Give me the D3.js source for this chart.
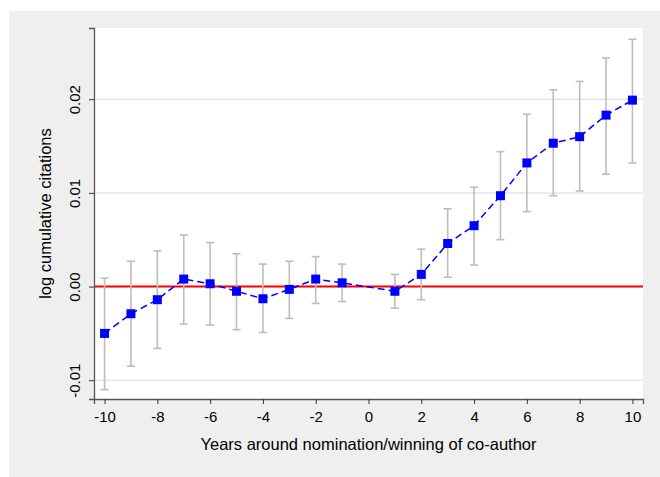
<!DOCTYPE html>
<html><head><meta charset="utf-8">
<script src="https://cdn.jsdelivr.net/npm/d3@7"></script>
<style>html,body{margin:0;padding:0;background:#fff;}svg{display:block;}</style>
</head><body>
<svg id="c" width="660" height="477"></svg>
<script>
const years = [-10,-9,-8,-7,-6,-5,-4,-3,-2,-1,1,2,3,4,5,6,7,8,9,10];
const estimate = [-0.0050,-0.0029,-0.0014,0.0008,0.0003,-0.0005,-0.0013,-0.0003,0.0008,0.0004,-0.0005,0.0013,0.0046,0.0065,0.0097,0.0132,0.0153,0.0160,0.0183,0.0199];
const upper = [0.0009,0.0027,0.0038,0.0055,0.0047,0.0035,0.0024,0.0027,0.0032,0.0024,0.0013,0.0040,0.0083,0.0106,0.0144,0.0184,0.0210,0.0219,0.0244,0.0264];
const lower = [-0.0110,-0.0085,-0.0066,-0.0040,-0.0041,-0.0046,-0.0049,-0.0034,-0.0018,-0.0016,-0.0023,-0.0014,0.0010,0.0023,0.0050,0.0080,0.0097,0.0102,0.0120,0.0132];
const xTicks = [-10,-8,-6,-4,-2,0,2,4,6,8,10];
const yTicks = [-0.01,0.00,0.01,0.02];
const yTickLabels = ["-0.01","0.00","0.01","0.02"];
const xTitle = "Years around nomination/winning of co-author";
const yTitle = "log cumulative citations";

const svg = d3.select("#c");
const font = "Liberation Sans, Arial, sans-serif";
svg.append("rect").attr("x",9).attr("y",11).attr("width",651).attr("height",466).attr("fill","#efefef");
const L=94,R=643,T=28,B=399;
svg.append("rect").attr("x",L).attr("y",T).attr("width",R-L).attr("height",B-T).attr("fill","#fff");

const x = d3.scaleLinear().domain([-10.4,10.4]).range([L,R]);
const y = d3.scaleLinear().domain([-0.012,0.0276]).range([B,T]);

// gridlines
svg.append("g").selectAll("line").data(yTicks).join("line")
  .attr("x1",L).attr("x2",R).attr("y1",d=>y(d)).attr("y2",d=>y(d))
  .attr("stroke","#e6e6e6").attr("stroke-width",1.5);

// red zero line
svg.append("line").attr("x1",L).attr("x2",R).attr("y1",y(0)).attr("y2",y(0))
  .attr("stroke","#ff0000").attr("stroke-width",2);

const data = years.map((yr,i)=>({yr,est:estimate[i],lo:lower[i],hi:upper[i]}));

// error bars
const eb = svg.append("g").attr("stroke","#bdbdbd").attr("stroke-width",1.6);
eb.selectAll(".v").data(data).join("line")
  .attr("x1",d=>x(d.yr)).attr("x2",d=>x(d.yr)).attr("y1",d=>y(d.lo)).attr("y2",d=>y(d.hi));
eb.selectAll(".t").data(data).join("line")
  .attr("x1",d=>x(d.yr)-4).attr("x2",d=>x(d.yr)+4).attr("y1",d=>y(d.hi)).attr("y2",d=>y(d.hi));
eb.selectAll(".b").data(data).join("line")
  .attr("x1",d=>x(d.yr)-4).attr("x2",d=>x(d.yr)+4).attr("y1",d=>y(d.lo)).attr("y2",d=>y(d.lo));

// dashed line
svg.append("path").datum(data)
  .attr("d",d3.line().x(d=>x(d.yr)).y(d=>y(d.est)))
  .attr("fill","none").attr("stroke","#0000ff").attr("stroke-width",1.5)
  .attr("stroke-dasharray","7,4");

// markers
const ms=9;
svg.append("g").selectAll("rect").data(data).join("rect")
  .attr("x",d=>x(d.yr)-ms/2).attr("y",d=>y(d.est)-ms/2)
  .attr("width",ms).attr("height",ms).attr("fill","#0000ff");

// axes
const xAxis = d3.axisBottom(x).tickValues(xTicks).tickSize(5).tickPadding(7).tickFormat(d3.format("d"));
const gx = svg.append("g").attr("transform",`translate(0,${B})`).call(xAxis);
gx.select(".domain").attr("stroke","#555").attr("stroke-width",1.3);
gx.selectAll(".tick line").attr("stroke","#333");
gx.selectAll(".tick text").attr("font-family",font).attr("font-size",15).attr("fill","#000").text(d=>d);

const yAxis = d3.axisLeft(y).tickValues(yTicks).tickSize(5).tickFormat((d,i)=>yTickLabels[i]);
const gy = svg.append("g").attr("transform",`translate(${L},0)`).call(yAxis);
gy.select(".domain").attr("stroke","#555").attr("stroke-width",1.3);
gy.selectAll(".tick line").attr("stroke","#333");
gy.selectAll(".tick text").attr("font-family",font).attr("font-size",15).attr("fill","#000")
  .attr("x",0).attr("dy",0).attr("text-anchor","middle")
  .attr("transform","translate(-14,0) rotate(-90)");

svg.append("text").attr("x",(L+R)/2).attr("y",450).attr("text-anchor","middle")
  .attr("font-family",font).attr("font-size",16.5).attr("fill","#000").text(xTitle);
svg.append("text").attr("transform",`translate(51,${(T+B)/2}) rotate(-90)`).attr("text-anchor","middle")
  .attr("font-family",font).attr("font-size",16.5).attr("fill","#000").text(yTitle);
</script>
</body></html>
